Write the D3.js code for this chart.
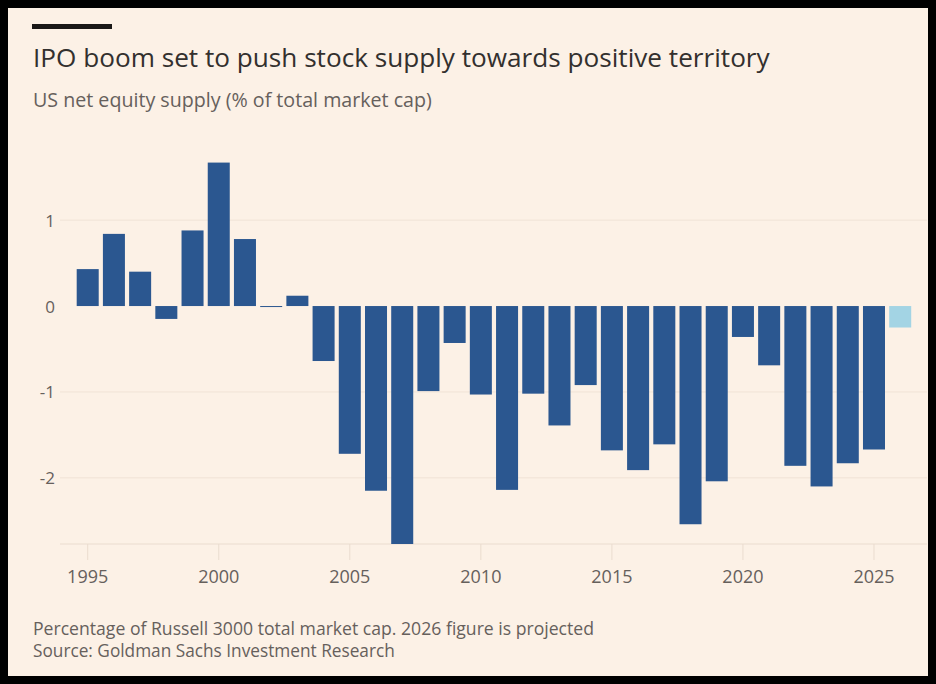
<!DOCTYPE html>
<html>
<head>
<meta charset="utf-8">
<script src="https://cdn.jsdelivr.net/npm/d3@7/dist/d3.min.js"></script>
<style>
  html, body { margin: 0; padding: 0; background: #000; }
  svg { display: block; }
</style>
</head>
<body>
<script>
// ---- Data ----
const years = d3.range(1995, 2027);
const values = [0.43, 0.84, 0.40, -0.15, 0.88, 1.67, 0.78, -0.01, 0.12, -0.64,
                -1.72, -2.15, -2.77, -0.99, -0.43, -1.03, -2.14, -1.02, -1.39, -0.92,
                -1.68, -1.91, -1.61, -2.54, -2.04, -0.36, -0.69, -1.86, -2.10, -1.83,
                -1.67, -0.25];
const projected = [2026];
const yTicks = [1, 0, -1, -2];
const xTicks = [1995, 2000, 2005, 2010, 2015, 2020, 2025];
const titleText = "IPO boom set to push stock supply towards positive territory";
const subtitleText = "US net equity supply (% of total market cap)";
const noteText = "Percentage of Russell 3000 total market cap. 2026 figure is projected";
const sourceText = "Source: Goldman Sachs Investment Research";

const data = years.map((y, i) => ({ year: y, value: values[i] }));

const W = 936, H = 684;
const FONT = "'Open Sans', 'Noto Sans', sans-serif";
const svg = d3.select("body").append("svg").attr("width", W).attr("height", H);

svg.append("rect").attr("width", W).attr("height", H).attr("fill", "#000");
svg.append("rect").attr("x", 8).attr("y", 8).attr("width", 920).attr("height", 668).attr("fill", "#fcf1e6");

// top bar
svg.append("rect").attr("x", 32).attr("y", 24).attr("width", 80).attr("height", 5).attr("fill", "#1a1817");

function fitText(sel, target) {
  const w = sel.node().getComputedTextLength();
  const fs = parseFloat(sel.attr("font-size"));
  sel.attr("font-size", (fs * target / w).toFixed(2));
}

const title = svg.append("text").attr("x", 33).attr("y", 67)
  .attr("font-family", FONT).attr("font-size", 24).attr("fill", "#33302e").text(titleText);
fitText(title, 737);

const sub = svg.append("text").attr("x", 33).attr("y", 107)
  .attr("font-family", FONT).attr("font-size", 17).attr("fill", "#66605c").text(subtitleText);
fitText(sub, 399);

// scales
const x = d3.scaleBand().domain(years).range([74.6, 913.3]).paddingInner(0.16).paddingOuter(0.08);
const y = d3.scaleLinear().domain([-2.77, 1.7]).range([544, 160]);

const gx0 = 60, gx1 = 927;

// gridlines
svg.append("g").selectAll("line").data(yTicks.filter(d => d !== 0)).join("line")
  .attr("x1", gx0).attr("x2", gx1)
  .attr("y1", d => y(d)).attr("y2", d => y(d))
  .attr("stroke", "#f0e3d6").attr("stroke-width", 1);

// y labels
svg.append("g").selectAll("text").data(yTicks).join("text")
  .attr("x", 55).attr("y", d => y(d) + 2)
  .attr("text-anchor", "end").attr("dominant-baseline", "middle")
  .attr("font-family", FONT).attr("font-size", 17).attr("fill", "#66605c")
  .text(d => d < 0 ? "-" + Math.abs(d) : d);

// bottom axis line
svg.append("line").attr("x1", gx0).attr("x2", gx1).attr("y1", y(-2.77)).attr("y2", y(-2.77))
  .attr("stroke", "#eadccf").attr("stroke-width", 1);

// x ticks
const xg = svg.append("g");
xg.selectAll("line").data(xTicks).join("line")
  .attr("x1", d => x(d) + x.bandwidth() / 2).attr("x2", d => x(d) + x.bandwidth() / 2)
  .attr("y1", y(-2.77)).attr("y2", y(-2.77) + 16)
  .attr("stroke", "#eadccf").attr("stroke-width", 1);
xg.selectAll("text").data(xTicks).join("text")
  .attr("x", d => x(d) + x.bandwidth() / 2).attr("y", 583)
  .attr("text-anchor", "middle")
  .attr("font-family", FONT).attr("font-size", 18).attr("fill", "#66605c")
  .text(d => d);

// bars
svg.append("g").selectAll("rect").data(data).join("rect")
  .attr("x", d => x(d.year))
  .attr("width", x.bandwidth())
  .attr("y", d => y(Math.max(0, d.value)))
  .attr("height", d => Math.max(1, Math.abs(y(d.value) - y(0))))
  .attr("fill", d => projected.includes(d.year) ? "#a3d4e4" : "#2b5790");

// footnotes
const n1 = svg.append("text").attr("x", 33).attr("y", 635)
  .attr("font-family", FONT).attr("font-size", 16).attr("fill", "#66605c").text(noteText);
fitText(n1, 561);
const n2 = svg.append("text").attr("x", 33).attr("y", 657)
  .attr("font-family", FONT).attr("font-size", 16).attr("fill", "#66605c").text(sourceText);
fitText(n2, 362);
</script>
</body>
</html>
